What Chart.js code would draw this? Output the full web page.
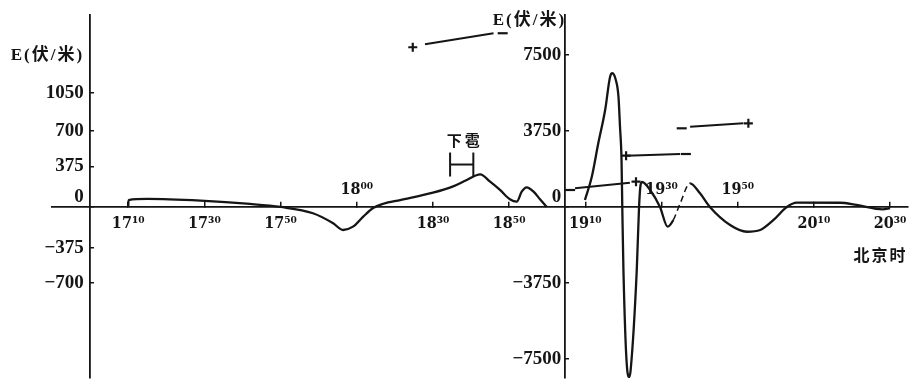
<!DOCTYPE html>
<html>
<head>
<meta charset="utf-8">
<script src="https://cdn.jsdelivr.net/npm/chart.js@4.4.1/dist/chart.umd.min.js"></script>
<style>
  html, body { margin: 0; padding: 0; background: #fff; }
  #wrap { width: 911px; height: 379px; }
</style>
</head>
<body>
<div id="wrap"><canvas id="c" width="911" height="379"></canvas></div>
<script>
// Time is counted in minutes after 17:00 (Beijing time).
// Tick positions along the time axis and their printed labels.
const timeTicks   = [10, 30, 50, 70, 90, 110, 130, 150, 170, 190, 210];
const timeLabels  = ['17¹⁰', '17³⁰', '17⁵⁰', '18⁰⁰', '18³⁰', '18⁵⁰', '19¹⁰', '19³⁰', '19⁵⁰', '20¹⁰', '20³⁰'];
const labelAbove  = [false, false, false, true, false, false, false, true, true, false, false];

// Field-strength ticks (V/m) for the two vertical scales.
const leftTicks  = [-700, -375, 0, 375, 700, 1050];
const rightTicks = [-7500, -3750, 0, 3750, 7500];

// Early record, 17:10 - 19:00, read against the left scale.
const earlyMinutes = [10, 10.1, 15, 29, 42, 50, 58.5, 63.8, 66.4, 69, 71.7, 74.3, 77, 81.4, 90, 95.3, 98.9, 102.4, 105, 107.6, 110.2, 112, 113.3, 114.6, 116.4, 118.1, 119.9];
const earlyField   = [0, 64, 74, 58, 28, 0, -58, -150, -212, -181, -89, -10, 30, 64, 132, 190, 249, 300, 233, 157, 71, 49, 141, 181, 141, 71, 0];

// Storm passage, 19:10 - 20:30, read against the right scale.
const stormMinutes = [129.9, 131.7, 133.4, 135.2, 136.5, 137.1, 138.0, 138.7, 139.1, 139.5, 139.7, 140.0, 141.0, 141.55, 141.9, 143.5, 144.1, 144.5, 144.9, 147.0, 149.6, 151.6, 153.1, 154.9, 157.5, 160.1, 162.7, 168.0, 172.4, 175.9, 179.4, 182.9, 185.5, 196.9, 201.2, 208.1, 210.0];
const stormField   = [345, 1495, 3143, 4786, 6430, 6600, 6266, 5442, 3962, 2319, 0, -3109, -8043, -8388, -8043, -3109, 0, 1085, 1234, 839, 0, -970, -640, 180, 1170, 676, 0, -890, -1220, -1135, -640, 0, 212, 210, 100, -115, -50];
// Stretch of the storm trace that is only inferred (drawn dashed).
const inferredFrom = 22, inferredTo = 24;

// Polarity marks: [startMinute, startField, endMinute, endField]
const polarityLeft  = [[87.9, 1498, 105.9, 1600]];
const polarityLeftSigns  = [[84.7, 1471, '+'], [108.3, 1600, '−']];
const polarityRight = [[127.3, 923, 141.7, 1199], [140.7, 2531, 154.9, 2615], [157.5, 3962, 171.5, 4130]];
const polarityRightSigns = [[126.0, 839, '−'], [143.3, 1248, '+'], [140.7, 2531, '+'], [156.4, 2615, '−'], [155.3, 3883, '−'], [172.8, 4130, '+']];

// Hail interval (minutes) and level on the left scale.
const hailSpan  = [94.5, 100.6];
const hailLevel = 391;

const INK = '#151515';
const yTickFont = { family: "'Liberation Serif', serif", size: 19, weight: 'bold', lineHeight: 1.0 };
const xTickFont = { family: "'DejaVu Serif Condensed', 'DejaVu Serif', serif", size: 16, weight: 'bold' };
const fmt = v => (v < 0 ? '−' + Math.abs(v) : String(v));

const pts = (xs, ys) => xs.map((x, i) => ({ x, y: ys[i] }));
// Axes sit inside the plot, so they should not reserve any room of their own.
const noPadding = s => { s.paddingTop = s.paddingBottom = s.paddingLeft = s.paddingRight = 0; };

const datasets = [
  {
    data: pts(earlyMinutes, earlyField), yAxisID: 'y',
    borderColor: INK, borderWidth: 2.3, pointRadius: 0, cubicInterpolationMode: 'monotone', fill: false
  },
  {
    data: pts(stormMinutes, stormField), yAxisID: 'y2',
    borderColor: INK, borderWidth: 2.3, pointRadius: 0, cubicInterpolationMode: 'monotone', fill: false,
    segment: {
      borderDash: ctx => (ctx.p0DataIndex >= inferredFrom && ctx.p0DataIndex < inferredTo) ? [6, 4] : undefined,
      borderWidth: ctx => (ctx.p0DataIndex >= inferredFrom && ctx.p0DataIndex < inferredTo) ? 1.5 : 2.3
    }
  }
];

polarityLeft.forEach(s => datasets.push({
  data: [{ x: s[0], y: s[1] }, { x: s[2], y: s[3] }], yAxisID: 'y',
  borderColor: INK, borderWidth: 2, pointRadius: 0, tension: 0
}));
polarityRight.forEach(s => datasets.push({
  data: [{ x: s[0], y: s[1] }, { x: s[2], y: s[3] }], yAxisID: 'y2',
  borderColor: INK, borderWidth: 2, pointRadius: 0, tension: 0
}));
[[polarityLeftSigns, 'y'], [polarityRightSigns, 'y2']].forEach(([signs, axis]) => datasets.push({
  data: signs.map(s => ({ x: s[0], y: s[1] })), yAxisID: axis, showLine: false,
  pointStyle: signs.map(s => (s[2] === '+' ? 'cross' : 'line')),
  pointRadius: signs.map(s => (s[2] === '+' ? 4.5 : 5)),
  pointBorderWidth: 2.2, pointBorderColor: INK, pointBackgroundColor: INK
}));
// Hail interval bracket
datasets.push({
  data: [{ x: hailSpan[0], y: hailLevel }, { x: hailSpan[1], y: hailLevel }], yAxisID: 'y',
  borderColor: INK, borderWidth: 2, tension: 0,
  pointStyle: 'line', pointRotation: 90, pointRadius: 12, pointBorderWidth: 2, pointBorderColor: INK
});

// Free text: axis titles, time unit and the hail note.
const captions = {
  id: 'captions',
  afterDraw(chart) {
    const { ctx, scales } = chart;
    const xs = scales.x, yl = scales.y, yr = scales.y2;
    ctx.save();
    ctx.fillStyle = INK;
    ctx.textBaseline = 'middle';
    ctx.font = "bold 17px 'Liberation Serif', 'Noto Sans CJK SC', serif";
    ctx.letterSpacing = '2px';
    ctx.textAlign = 'right';
    const xl = xs.getPixelForValue(0), xr = xs.getPixelForValue(124.7);
    ctx.fillText('E(伏/米)', xl - 6, yl.getPixelForValue(1390));
    ctx.fillText('E(伏/米)', xr + 1, yr.getPixelForValue(9200));
    ctx.font = "bold 16px 'Noto Sans CJK SC', sans-serif";
    ctx.textAlign = 'center';
    ctx.fillText('北京时', xs.getPixelForValue(207.5), yl.getPixelForValue(-440));
    ctx.font = "bold 15px 'Noto Sans CJK SC', sans-serif";
    ctx.letterSpacing = '3px';
    ctx.fillText('下雹', xs.getPixelForValue((hailSpan[0] + hailSpan[1]) / 2) + 3, yl.getPixelForValue(610));
    ctx.restore();
  }
};

new Chart(document.getElementById('c'), {
  type: 'line',
  data: { datasets },
  plugins: [captions],
  options: {
    responsive: false,
    animation: false,
    devicePixelRatio: 1,
    layout: { autoPadding: false, padding: { left: 52, right: 3, top: 15, bottom: 1 } },
    plugins: { legend: { display: false }, tooltip: { enabled: false } },
    scales: {
      x: {
        type: 'linear', axis: 'x', min: -10, max: 214.7, position: { y: 0 },
        afterBuildTicks: s => { s.ticks = timeTicks.map(v => ({ value: v })); },
        afterFit: noPadding,
        ticks: {
          color: INK, font: xTickFont, padding: 13, maxRotation: 0, autoSkip: false,
          callback: (v, i) => (labelAbove[i] ? '' : timeLabels[i])
        },
        grid: { drawOnChartArea: false, tickLength: -6, color: INK, lineWidth: 1.5 },
        border: { color: INK, width: 1.8 }
      },
      x2: {
        type: 'linear', axis: 'x', min: -10, max: 214.7, position: { y: 0 },
        afterBuildTicks: s => { s.ticks = timeTicks.filter((v, i) => labelAbove[i]).map(v => ({ value: v })); },
        afterFit: noPadding,
        ticks: {
          color: INK, font: xTickFont, padding: -27, maxRotation: 0, autoSkip: false,
          callback: v => timeLabels[timeTicks.indexOf(v)]
        },
        grid: { display: false, drawTicks: false, drawOnChartArea: false },
        border: { display: false }
      },
      y: {
        type: 'linear', axis: 'y', min: -1575, max: 1768, position: { x: 0 },
        afterBuildTicks: s => { s.ticks = leftTicks.map(v => ({ value: v })); },
        afterFit: noPadding,
        ticks: {
          color: INK, font: yTickFont, padding: 0, autoSkip: false,
          callback: v => (v === 0 ? ['0 \u200A', ''] : fmt(v) + ' \u200A')
        },
        grid: { drawOnChartArea: false, tickLength: -5, color: INK, lineWidth: 1.5 },
        border: { color: INK, width: 1.8 }
      },
      y2: {
        type: 'linear', axis: 'y', min: -8437, max: 9474, position: { x: 124.7 },
        afterBuildTicks: s => { s.ticks = rightTicks.map(v => ({ value: v })); },
        afterFit: noPadding,
        ticks: {
          color: INK, font: yTickFont, padding: 0, autoSkip: false,
          callback: v => (v === 0 ? ['0\u2009', ''] : fmt(v) + '\u2009')
        },
        grid: { drawOnChartArea: false, tickLength: -5, color: INK, lineWidth: 1.5 },
        border: { color: INK, width: 1.8 }
      }
    }
  }
});
</script>
</body>
</html>
